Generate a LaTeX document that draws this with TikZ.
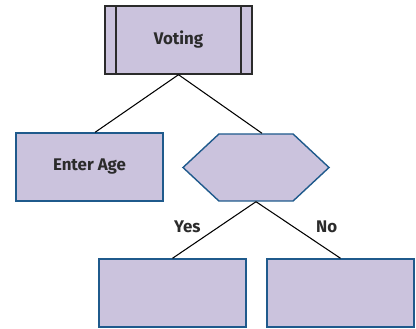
\documentclass[tikz,border=0pt]{standalone}
\usepackage{fontspec}
\setmainfont{Fira Sans}
\usetikzlibrary{shapes.symbols}
\definecolor{boxfill}{HTML}{CBC3DD}
\definecolor{boxline}{HTML}{1F5A8C}
\definecolor{txt}{HTML}{2B2B2B}
\tikzset{
  stepbox/.style={draw=boxline, fill=boxfill, line width=1pt,
    minimum width=3.675cm, minimum height=1.7cm, inner sep=0pt},
  lbl/.style={font=\bfseries\fontsize{12}{14}\selectfont, text=txt}
}
\begin{document}
\begin{tikzpicture}[line width=0.75pt]
  \useasboundingbox (0,0) rectangle (10.4,8.2);
  % process box on top
  \node[stepbox, draw=txt, lbl] (vote) at (4.4625,7.2) {Voting};
  \draw[txt, line width=1pt] ([xshift=0.29cm]vote.north west) -- ([xshift=0.29cm]vote.south west);
  \draw[txt, line width=1pt] ([xshift=-0.29cm]vote.north east) -- ([xshift=-0.29cm]vote.south east);
  % second row
  \node[stepbox, lbl] (age) at (2.2375,4.025) {Enter Age};
  \node[stepbox, shape=signal, signal to=west and east, signal pointer angle=86,
        minimum width=3.65cm, minimum height=1.675cm] (cond) at (6.4,4.0125) {};
  % bottom row
  \node[stepbox] (yes) at (4.3125,0.875) {};
  \node[stepbox] (no) at (8.5125,0.875) {};
  \draw (vote.south) -- ([xshift=0.14cm]age.north);
  \draw (vote.south) -- ([xshift=0.15cm]cond.north);
  \draw (cond.south) -- (yes.north) node[lbl, pos=0.45, left=9pt] {Yes};
  \draw (cond.south) -- (no.north) node[lbl, pos=0.45, right=12pt] {No};
\end{tikzpicture}
\end{document}
